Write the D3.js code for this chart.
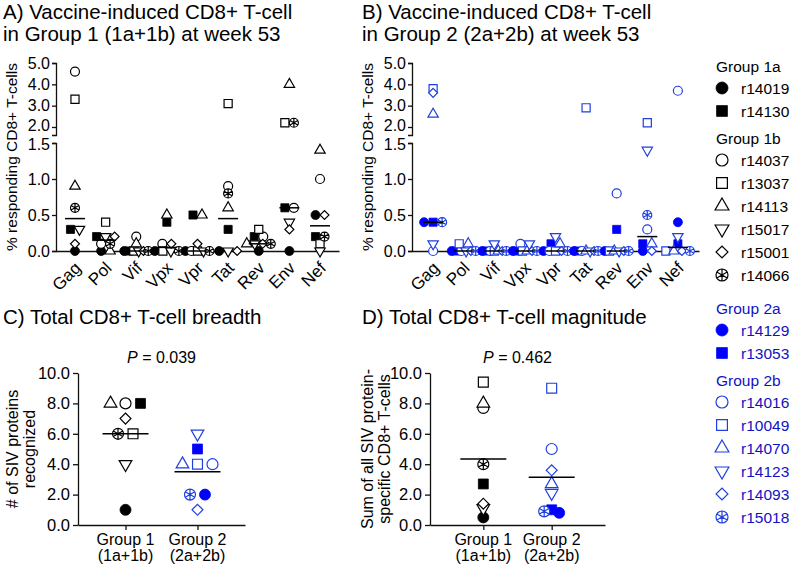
<!DOCTYPE html>
<html>
<head>
<meta charset="utf-8">
<script src="https://cdn.jsdelivr.net/npm/d3@7"></script>
<style>
body { margin: 0; background: #fff; }
text { font-family: "Liberation Sans", Arial, Helvetica, sans-serif; }
</style>
</head>
<body>
<div id="chart"></div>
<script>
// ---------------- data ----------------
var proteins = ["Gag", "Pol", "Vif", "Vpx", "Vpr", "Tat", "Rev", "Env", "Nef"];

var group1Ids = ["r14019", "r14130", "r14037", "r13037", "r14113", "r15017", "r15001", "r14066"];
var group2Ids = ["r14129", "r13053", "r14016", "r10049", "r14070", "r14123", "r14093", "r15018"];

// % responding CD8+ T-cells at week 53, one array per animal (protein order)
var r14019 = [0.0, 0.0, 0.0, 0.0, 0.0, 0.0, 0.0, 0.0, 0.5];
var r14130 = [0.3, 0.2, 0.0, 0.4, 0.5, 0.3, 0.2, 0.6, 0.2];
var r14037 = [4.6, 0.1, 0.2, 0.1, 0.0, 0.9, 0.2, 0.6, 1.0];
var r13037 = [3.3, 0.4, 0.0, 0.0, 0.0, 3.1, 0.3, 2.2, 0.1];
var r14113 = [0.9, 0.0, 0.1, 0.5, 0.5, 0.6, 0.1, 4.0, 1.4];
var r15017 = [0.3, 0.2, 0.0, 0.0, 0.0, 0.0, 0.1, 0.4, 0.0];
var r15001 = [0.1, 0.2, 0.0, 0.1, 0.1, 0.0, 0.1, 0.3, 0.5];
var r14066 = [0.6, 0.1, 0.0, 0.0, 0.0, 0.8, 0.1, 2.2, 0.2];

var r14129 = [0.4, 0.0, 0.0, 0.0, 0.0, 0.0, 0.0, 0.0, 0.4];
var r13053 = [0.4, 0.0, 0.0, 0.0, 0.1, 0.0, 0.3, 0.1, 0.1];
var r14016 = [0.0, 0.0, 0.0, 0.1, 0.0, 0.0, 0.8, 0.3, 3.7];
var r10049 = [3.8, 0.1, 0.0, 0.0, 0.0, 2.9, 0.0, 2.2, 0.0];
var r14070 = [2.6, 0.1, 0.0, 0.0, 0.1, 0.0, 0.0, 0.1, 0.0];
var r14123 = [0.1, 0.0, 0.1, 0.1, 0.2, 0.0, 0.0, 1.4, 0.2];
var r14093 = [3.6, 0.0, 0.0, 0.0, 0.0, 0.0, 0.0, 0.0, 0.0];
var r15018 = [0.4, 0.0, 0.0, 0.0, 0.0, 0.0, 0.0, 0.5, 0.0];

var group1Values = [r14019, r14130, r14037, r13037, r14113, r15017, r15001, r14066];
var group2Values = [r14129, r13053, r14016, r10049, r14070, r14123, r14093, r15018];

// totals (same animal order as the id lists)
var breadthG1 = [1, 8, 8, 6, 8, 4, 7, 6];
var breadthG2 = [2, 5, 4, 4, 4, 6, 1, 2];
var magnitudeG1 = [0.5, 2.7, 7.7, 9.4, 8.0, 1.1, 1.4, 4.0];
var magnitudeG2 = [0.8, 1.0, 5.0, 9.0, 2.7, 2.1, 3.6, 0.9];

var groupNames = ["Group 1", "Group 2"];
var groupSubs = ["(1a+1b)", "(2a+2b)"];
var upperTicks = [2, 3, 4, 5];
var lowerTicks = [0, 0.5, 1, 1.5];
var totalTicks = [0, 2, 4, 6, 8, 10];

// ---------------- styles ----------------
var shapes = ["fcircle", "fsquare", "circle", "square", "tri", "tridown", "diamond", "ast"];
var BLACK = "#000", BLUE = "#0000ff", BLUE_LINE = "#1f3fe0", BLUE_TEXT = "#1212c4";
var fmt = d3.format(".1f");

var svg = d3.select("#chart").append("svg")
  .attr("width", 791)
  .attr("height", 566)
  .style("background", "#fff");

function markerPath(shape, s) {
  if (shape === "fsquare" || shape === "square") return d3.symbol(d3.symbolSquare, Math.pow(s * 0.9, 2))();
  if (shape === "tri" || shape === "tridown") return d3.symbol(d3.symbolTriangle, Math.sqrt(3) / 4 * Math.pow(s * 1.15, 2))();
  if (shape === "diamond") return d3.symbol(d3.symbolSquare, Math.pow(s * 0.7, 2))();
  var p = d3.symbol(d3.symbolCircle, Math.PI * s * s / 4)();
  if (shape === "ast") {
    var r = s / 2, c = r * Math.cos(Math.PI / 6), h = r * Math.sin(Math.PI / 6);
    p += "M0," + (-r) + "L0," + r +
         "M" + (-c) + "," + (-h) + "L" + c + "," + h +
         "M" + (-c) + "," + h + "L" + c + "," + (-h);
  }
  return p;
}

function drawMarker(g, shape, x, y, s, fillCol, lineCol) {
  var filled = shape === "fcircle" || shape === "fsquare";
  var rot = shape === "tridown" ? " rotate(180)" : shape === "diamond" ? " rotate(45)" : "";
  g.append("path")
    .attr("d", markerPath(shape, s))
    .attr("transform", "translate(" + x + "," + y + ")" + rot)
    .attr("fill", filled ? fillCol : "#fff")
    .attr("stroke", filled ? fillCol : lineCol)
    .attr("stroke-width", filled ? 0.8 : 1.2);
}

// spread points that sit on the same height side by side
function dodge(ys, spacing, maxW, reverse) {
  var offs = ys.map(function() { return 0; });
  var clusters = [];
  ys.forEach(function(y, i) {
    var c = clusters.find(function(c) { return Math.abs(c.y - y) < 3; });
    if (c) c.m.push(i); else clusters.push({y: y, m: [i]});
  });
  clusters.forEach(function(c) {
    if (reverse) c.m.reverse();
    var n = c.m.length;
    var sp = n > 1 ? Math.min(spacing, maxW / (n - 1)) : 0;
    c.m.forEach(function(i, k) { offs[i] = (k - (n - 1) / 2) * sp; });
  });
  return offs;
}

function styleAxis(a, size) {
  a.attr("font-size", size).attr("font-family", "Liberation Sans, Arial, sans-serif");
  a.selectAll("path, line").attr("stroke", "#111").attr("stroke-width", 1.3);
  a.selectAll("text").attr("fill", "#000");
}

// ---------------- panels A and B ----------------
function proteinPanel(o) {
  var g = svg.append("g");
  var x = d3.scaleBand().domain(proteins).range([o.x0, o.x1]).paddingInner(0).paddingOuter(o.po);
  var yUp = d3.scaleLinear().domain([1.625, 5]).range([135, 63]);
  var yLo = d3.scaleLinear().domain([0, 1.5]).range([251, 143]);
  function y(v) { return v >= 1.75 ? yUp(v) : yLo(v); }

  var t = g.append("text").attr("x", o.tx).attr("font-size", 20.5).attr("fill", "#000");
  t.append("tspan").attr("x", o.tx).attr("y", 19).text(o.title1);
  t.append("tspan").attr("x", o.tx).attr("y", 41).text(o.title2);

  var ua = g.append("g").attr("transform", "translate(" + o.x0 + ",0)")
    .call(d3.axisLeft(yUp).tickValues(upperTicks).tickFormat(fmt).tickSize(4).tickSizeOuter(4).tickPadding(2));
  styleAxis(ua, 16);
  var la = g.append("g").attr("transform", "translate(" + o.x0 + ",0)")
    .call(d3.axisLeft(yLo).tickValues(lowerTicks).tickFormat(fmt).tickSize(4).tickSizeOuter(4).tickPadding(2));
  styleAxis(la, 16);
  // nudge the two labels at the axis break apart a little
  ua.selectAll(".tick text").filter(function(d) { return d === 2; }).attr("dy", "0.22em");
  la.selectAll(".tick text").filter(function(d) { return d === 1.5; }).attr("dy", "0.42em");

  var xa = g.append("g").attr("transform", "translate(0,251)")
    .call(d3.axisBottom(x).tickSize(0).tickSizeOuter(0));
  styleAxis(xa, 17);
  xa.selectAll("text")
    .attr("x", 0).attr("y", 0).attr("dy", 0)
    .attr("text-anchor", "end")
    .attr("transform", "translate(7,18) rotate(-45)");

  g.append("text")
    .attr("transform", "translate(" + (o.x0 - 39) + ",157) rotate(-90)")
    .attr("text-anchor", "middle").attr("font-size", 15.5).attr("fill", "#000")
    .text("% responding CD8+ T-cells");

  var pts = g.append("g");
  var med = g.append("g");
  proteins.forEach(function(p, j) {
    var vals = o.values.map(function(a) { return a[j]; });
    var ys = vals.map(y);
    var offs = dodge(ys, 9, 24, false);
    var cx = x(p) + x.bandwidth() / 2;
    vals.forEach(function(v, i) {
      drawMarker(pts, shapes[i], cx + offs[i], ys[i], 9, o.fill, o.line);
    });
    var m = d3.median(vals);
    med.append("line")
      .attr("x1", cx - 10).attr("x2", cx + 10)
      .attr("y1", y(m)).attr("y2", y(m))
      .attr("stroke", "#000").attr("stroke-width", 1.5);
  });
}

proteinPanel({
  x0: 56, x1: 339, po: 0.12, tx: 3,
  title1: "A) Vaccine-induced CD8+ T-cell",
  title2: "in Group 1 (1a+1b) at week 53",
  values: group1Values, fill: BLACK, line: BLACK
});
proteinPanel({
  x0: 412, x1: 699, po: 0.19, tx: 362,
  title1: "B) Vaccine-induced CD8+ T-cell",
  title2: "in Group 2 (2a+2b) at week 53",
  values: group2Values, fill: BLUE, line: BLUE_LINE
});

// ---------------- panels C and D ----------------
function totalPanel(o) {
  var g = svg.append("g");
  var x = d3.scalePoint().domain(groupNames).range([o.x0, o.x1]).padding(o.pad);
  var y = d3.scaleLinear().domain([0, 10]).range([525, 373]);

  g.append("text").attr("x", o.tx).attr("y", 324).attr("font-size", 20.5).attr("fill", "#000").text(o.title);

  var pt = g.append("text").attr("x", (x(groupNames[0]) + x(groupNames[1])) / 2).attr("y", 363)
    .attr("text-anchor", "middle").attr("font-size", 16).attr("fill", "#000");
  pt.append("tspan").attr("font-style", "italic").text("P");
  pt.append("tspan").text(" = " + o.p);

  var ya = g.append("g").attr("transform", "translate(" + o.x0 + ",0)")
    .call(d3.axisLeft(y).tickValues(totalTicks).tickFormat(fmt).tickSize(5).tickSizeOuter(0).tickPadding(3));
  styleAxis(ya, 16.5);

  var xa = g.append("g").attr("transform", "translate(0,525)")
    .call(d3.axisBottom(x).tickSize(5).tickSizeOuter(0).tickFormat(""));
  styleAxis(xa, 16);
  groupNames.forEach(function(n, i) {
    g.append("text").attr("x", x(n)).attr("y", 545).attr("text-anchor", "middle")
      .attr("font-size", 16).attr("fill", "#000").text(n);
    g.append("text").attr("x", x(n)).attr("y", 561).attr("text-anchor", "middle")
      .attr("font-size", 16).attr("fill", "#000").text(groupSubs[i]);
  });

  var yl = g.append("text").attr("transform", "translate(" + o.lx + ",449) rotate(-90)")
    .attr("text-anchor", "middle").attr("font-size", 16).attr("fill", "#000");
  yl.append("tspan").attr("x", 0).attr("y", 0).text(o.label1);
  yl.append("tspan").attr("x", 0).attr("y", 17).text(o.label2);

  [o.g1, o.g2].forEach(function(vals, k) {
    var cx = x(groupNames[k]);
    var ys = vals.map(y);
    var offs = dodge(ys, 15, 40, true);
    vals.forEach(function(v, i) {
      drawMarker(g, shapes[i], cx + offs[i], ys[i], 11, k ? BLUE : BLACK, k ? BLUE_LINE : BLACK);
    });
    var m = d3.mean(vals);
    g.append("line")
      .attr("x1", cx - 23).attr("x2", cx + 23)
      .attr("y1", y(m)).attr("y2", y(m))
      .attr("stroke", "#000").attr("stroke-width", 1.5);
  });
}

totalPanel({
  x0: 78, x1: 245, pad: 0.66, tx: 3, lx: 18,
  title: "C) Total CD8+ T-cell breadth", p: "0.039",
  label1: "# of SIV proteins", label2: "recognized",
  g1: breadthG1, g2: breadthG2
});
totalPanel({
  x0: 430, x1: 605, pad: 0.78, tx: 362, lx: 373,
  title: "D) Total CD8+ T-cell magnitude", p: "0.462",
  label1: "Sum of all SIV protein-", label2: "specific CD8+ T-cells",
  g1: magnitudeG1, g2: magnitudeG2
});

// ---------------- legend ----------------
var lg = svg.append("g");
var ly = 66;
function legendBlock(header, ids, shapeIdx, fillCol, lineCol, textCol) {
  lg.append("text").attr("x", 716).attr("y", ly + 6).attr("font-size", 15.5).attr("fill", textCol).text(header);
  ly += 22;
  ids.forEach(function(id, k) {
    drawMarker(lg, shapes[shapeIdx[k]], 722, ly, 12, fillCol, lineCol);
    lg.append("text").attr("x", 741).attr("y", ly + 5.5).attr("font-size", 15.5).attr("fill", textCol).text(id);
    ly += 23;
  });
  ly += 4;
}
legendBlock("Group 1a", group1Ids.slice(0, 2), [0, 1], BLACK, BLACK, "#000");
legendBlock("Group 1b", group1Ids.slice(2), [2, 3, 4, 5, 6, 7], BLACK, BLACK, "#000");
ly += 6;
legendBlock("Group 2a", group2Ids.slice(0, 2), [0, 1], BLUE, BLUE_LINE, BLUE_TEXT);
legendBlock("Group 2b", group2Ids.slice(2), [2, 3, 4, 5, 6, 7], BLUE, BLUE_LINE, BLUE_TEXT);
</script>
</body>
</html>
